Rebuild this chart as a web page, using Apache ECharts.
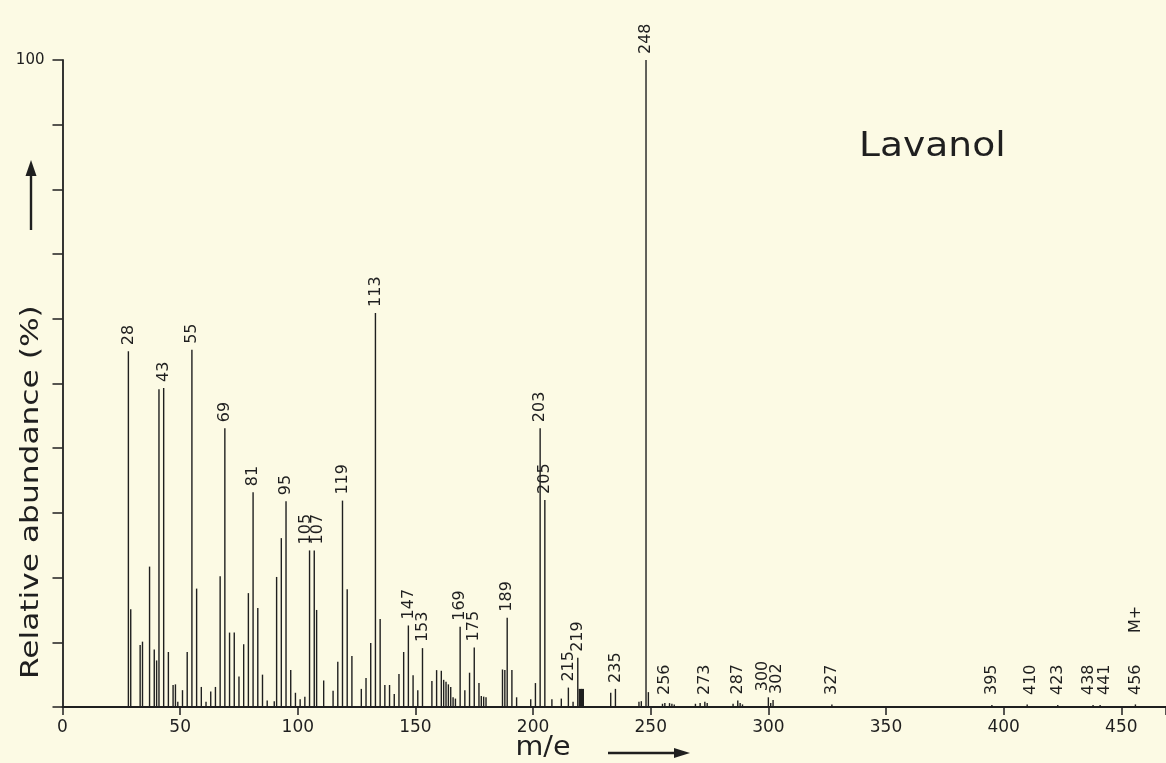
<!DOCTYPE html>
<html>
<head>
<meta charset="utf-8">
<script src="https://cdn.jsdelivr.net/npm/echarts/dist/echarts.min.js"></script>
<style>
  html, body { margin: 0; padding: 0; background: #fcfae4; }
  #chart { width: 1166px; height: 763px; }
</style>
</head>
<body>
<div id="chart"></div>
<script>
// ---- data ----
const peakMz = [
  28, 29, 33, 34, 37, 39, 40, 41, 43, 45, 47, 48, 49, 51, 53, 55, 57, 59, 61, 63,
  65, 67, 69, 71, 73, 75, 77, 79, 81, 83, 85, 87, 90, 91, 93, 95, 97, 99, 101, 103,
  105, 107, 108, 111, 115, 117, 119, 121, 123, 127, 129, 131, 133, 135, 137, 139, 141, 143, 145, 147,
  149, 151, 153, 157, 159, 161, 162, 163, 164, 165, 166, 167, 169, 171, 173, 175, 177, 178, 179, 180,
  187, 188, 189, 191, 193, 199, 201, 203, 205, 208, 212, 215, 217, 219, 220, 221, 233, 235, 245, 246,
  248, 249, 255, 256, 258, 259, 260, 269, 271, 273, 274, 285, 287, 288, 289, 300, 301, 302, 327, 395,
  410, 423, 438, 441, 456
];
const peakAbundance = [
  55.0, 15.1, 9.6, 10.1, 21.7, 8.9, 7.2, 49.1, 49.3, 8.5, 3.4, 3.5, 0.8, 2.6, 8.5, 55.2, 18.3, 3.1, 0.8, 2.4,
  3.1, 20.2, 43.1, 11.5, 11.5, 4.7, 9.7, 17.6, 33.2, 15.3, 5.0, 1.0, 0.9, 20.1, 26.1, 31.8, 5.7, 2.2, 1.2, 1.6,
  24.2, 24.2, 15.0, 4.1, 2.5, 7.0, 31.9, 18.2, 7.9, 2.8, 4.5, 9.9, 60.9, 13.6, 3.4, 3.4, 2.0, 5.1, 8.5, 12.6,
  4.9, 2.6, 9.1, 4.0, 5.7, 5.6, 4.2, 3.9, 3.5, 3.1, 1.5, 1.3, 12.4, 2.6, 5.3, 9.2, 3.7, 1.7, 1.6, 1.5,
  5.8, 5.7, 13.8, 5.7, 1.5, 1.2, 3.7, 43.1, 32.0, 1.2, 1.3, 3.0, 0.8, 7.6, 2.8, 2.8, 2.2, 2.8, 0.8, 0.9,
  100, 2.3, 0.5, 0.6, 0.6, 0.5, 0.4, 0.5, 0.6, 0.8, 0.6, 0.5, 1.0, 0.6, 0.4, 1.5, 0.6, 1.1, 0.4, 0.3,
  0.4, 0.3, 0.3, 0.3, 0.4
];
// peaks carrying a printed label: m/z position -> printed text
const labelledMz   = [28, 43, 55, 69, 81, 95, 105, 107, 133, 119, 147, 153, 169, 175, 189, 203, 205, 215, 219, 235,
                      248, 256, 273, 287, 300, 302, 327, 395, 410, 423, 438, 441, 456];
const labelledText = ['28','43','55','69','81','95','105','107','113','119','147','153','169','175','189','203','205','215','219','235',
                      '248','256','273','287','300','302','327','395','410','423','438','441','456'];
const xTickLabels = ['0','50','100','150','200','250','300','350','400','450'];
const yTickLabels = ['100'];
const moleculeName = 'Lavanol';
const molecularIonText = 'M+';
const molecularIonMz = 456;

// ---- styling (kept apart from the data) ----
const labelShift = {105: -3.7, 107: 3.8, 300: -6, 302: 3.8, 438: -4.3, 441: 4.6, 410: 4};
const thickPeaks = {220: 3, 221: 3};
const INK = '#1f1f1f';
const FONT = '"DejaVu Sans", sans-serif';

const labelMap = {};
labelledMz.forEach((m, i) => { labelMap[m] = labelledText[i]; });

const chart = echarts.init(document.getElementById('chart'), null, {renderer: 'canvas'});

const option = {
  backgroundColor: '#fcfae4',
  animation: false,
  grid: { left: 62.5, right: 0, top: 60, bottom: 56, containLabel: false, outerBoundsMode: 'none' },
  xAxis: {
    type: 'value', min: 0, max: 469, interval: 50,
    axisLine: { show: true, onZero: false, lineStyle: { color: INK, width: 1.8 } },
    axisTick: { show: true, inside: false, length: 8, lineStyle: { color: INK, width: 1.5 } },
    axisLabel: {
      show: true, margin: 12, color: INK, fontSize: 17, fontFamily: 'DejaVu Sans',
      formatter: v => { const i = Math.round(v / 50); return (v % 50 === 0 && xTickLabels[i] !== undefined) ? xTickLabels[i] : ''; }
    },
    splitLine: { show: false }
  },
  yAxis: {
    type: 'value', min: 0, max: 100, interval: 10,
    axisLine: { show: true, onZero: false, lineStyle: { color: INK, width: 1.8 } },
    axisTick: { show: true, inside: false, length: 10, lineStyle: { color: INK, width: 1.5 } },
    axisLabel: {
      show: true, margin: 18, color: INK, fontSize: 15, fontFamily: 'DejaVu Sans',
      formatter: v => (v === 100 ? yTickLabels[0] : '')
    },
    splitLine: { show: false }
  },
  series: [{
    type: 'custom',
    clip: false,
    data: peakMz.map((m, i) => [m, peakAbundance[i]]),
    encode: { x: 0, y: 1 },
    renderItem: function (params, api) {
      const m = api.value(0), a = api.value(1);
      const p0 = api.coord([m, 0]);
      const p1 = api.coord([m, a]);
      const children = [{
        type: 'line',
        shape: { x1: p0[0], y1: p0[1], x2: p1[0], y2: p1[1] },
        style: { stroke: INK, lineWidth: thickPeaks[m] || 1.4 }
      }];
      if (labelMap[m] !== undefined) {
        const startY = Math.min(p1[1] - 6, p0[1] - 12);
        children.push({
          type: 'text',
          x: p0[0] + (labelShift[m] || 0),
          y: startY,
          rotation: Math.PI / 2,
          style: { text: labelMap[m], fill: INK, font: '16px ' + FONT, align: 'left', verticalAlign: 'middle' }
        });
        if (m === molecularIonMz) {
          children.push({
            type: 'text',
            x: p0[0],
            y: p0[1] - 74,
            rotation: Math.PI / 2,
            style: { text: molecularIonText, fill: INK, font: '16px ' + FONT, align: 'left', verticalAlign: 'middle' }
          });
        }
      }
      return { type: 'group', children: children };
    }
  }],
  graphic: [
    { type: 'text', x: 859, y: 147, scaleX: 1.14,
      style: { text: moleculeName, fill: INK, font: '33px ' + FONT, align: 'left', verticalAlign: 'middle' } },
    // y-axis title
    { type: 'text', x: 31, y: 679, rotation: Math.PI / 2, scaleX: 1.25,
      style: { text: 'Relative abundance (%)', fill: INK, font: '25px ' + FONT, align: 'left', verticalAlign: 'middle' } },
    { type: 'line', shape: { x1: 31, y1: 230, x2: 31, y2: 172 }, style: { stroke: INK, lineWidth: 2.4 } },
    { type: 'polygon', shape: { points: [[31, 160], [25.5, 176], [36.5, 176]] }, style: { fill: INK } },
    // x-axis title
    { type: 'text', x: 543, y: 748, scaleX: 1.1,
      style: { text: 'm/e', fill: INK, font: '26px ' + FONT, align: 'center', verticalAlign: 'middle' } },
    { type: 'line', shape: { x1: 608, y1: 753, x2: 676, y2: 753 }, style: { stroke: INK, lineWidth: 2.4 } },
    { type: 'polygon', shape: { points: [[690, 753], [674, 748], [674, 758]] }, style: { fill: INK } }
  ]
};
chart.setOption(option);
</script>
</body>
</html>
